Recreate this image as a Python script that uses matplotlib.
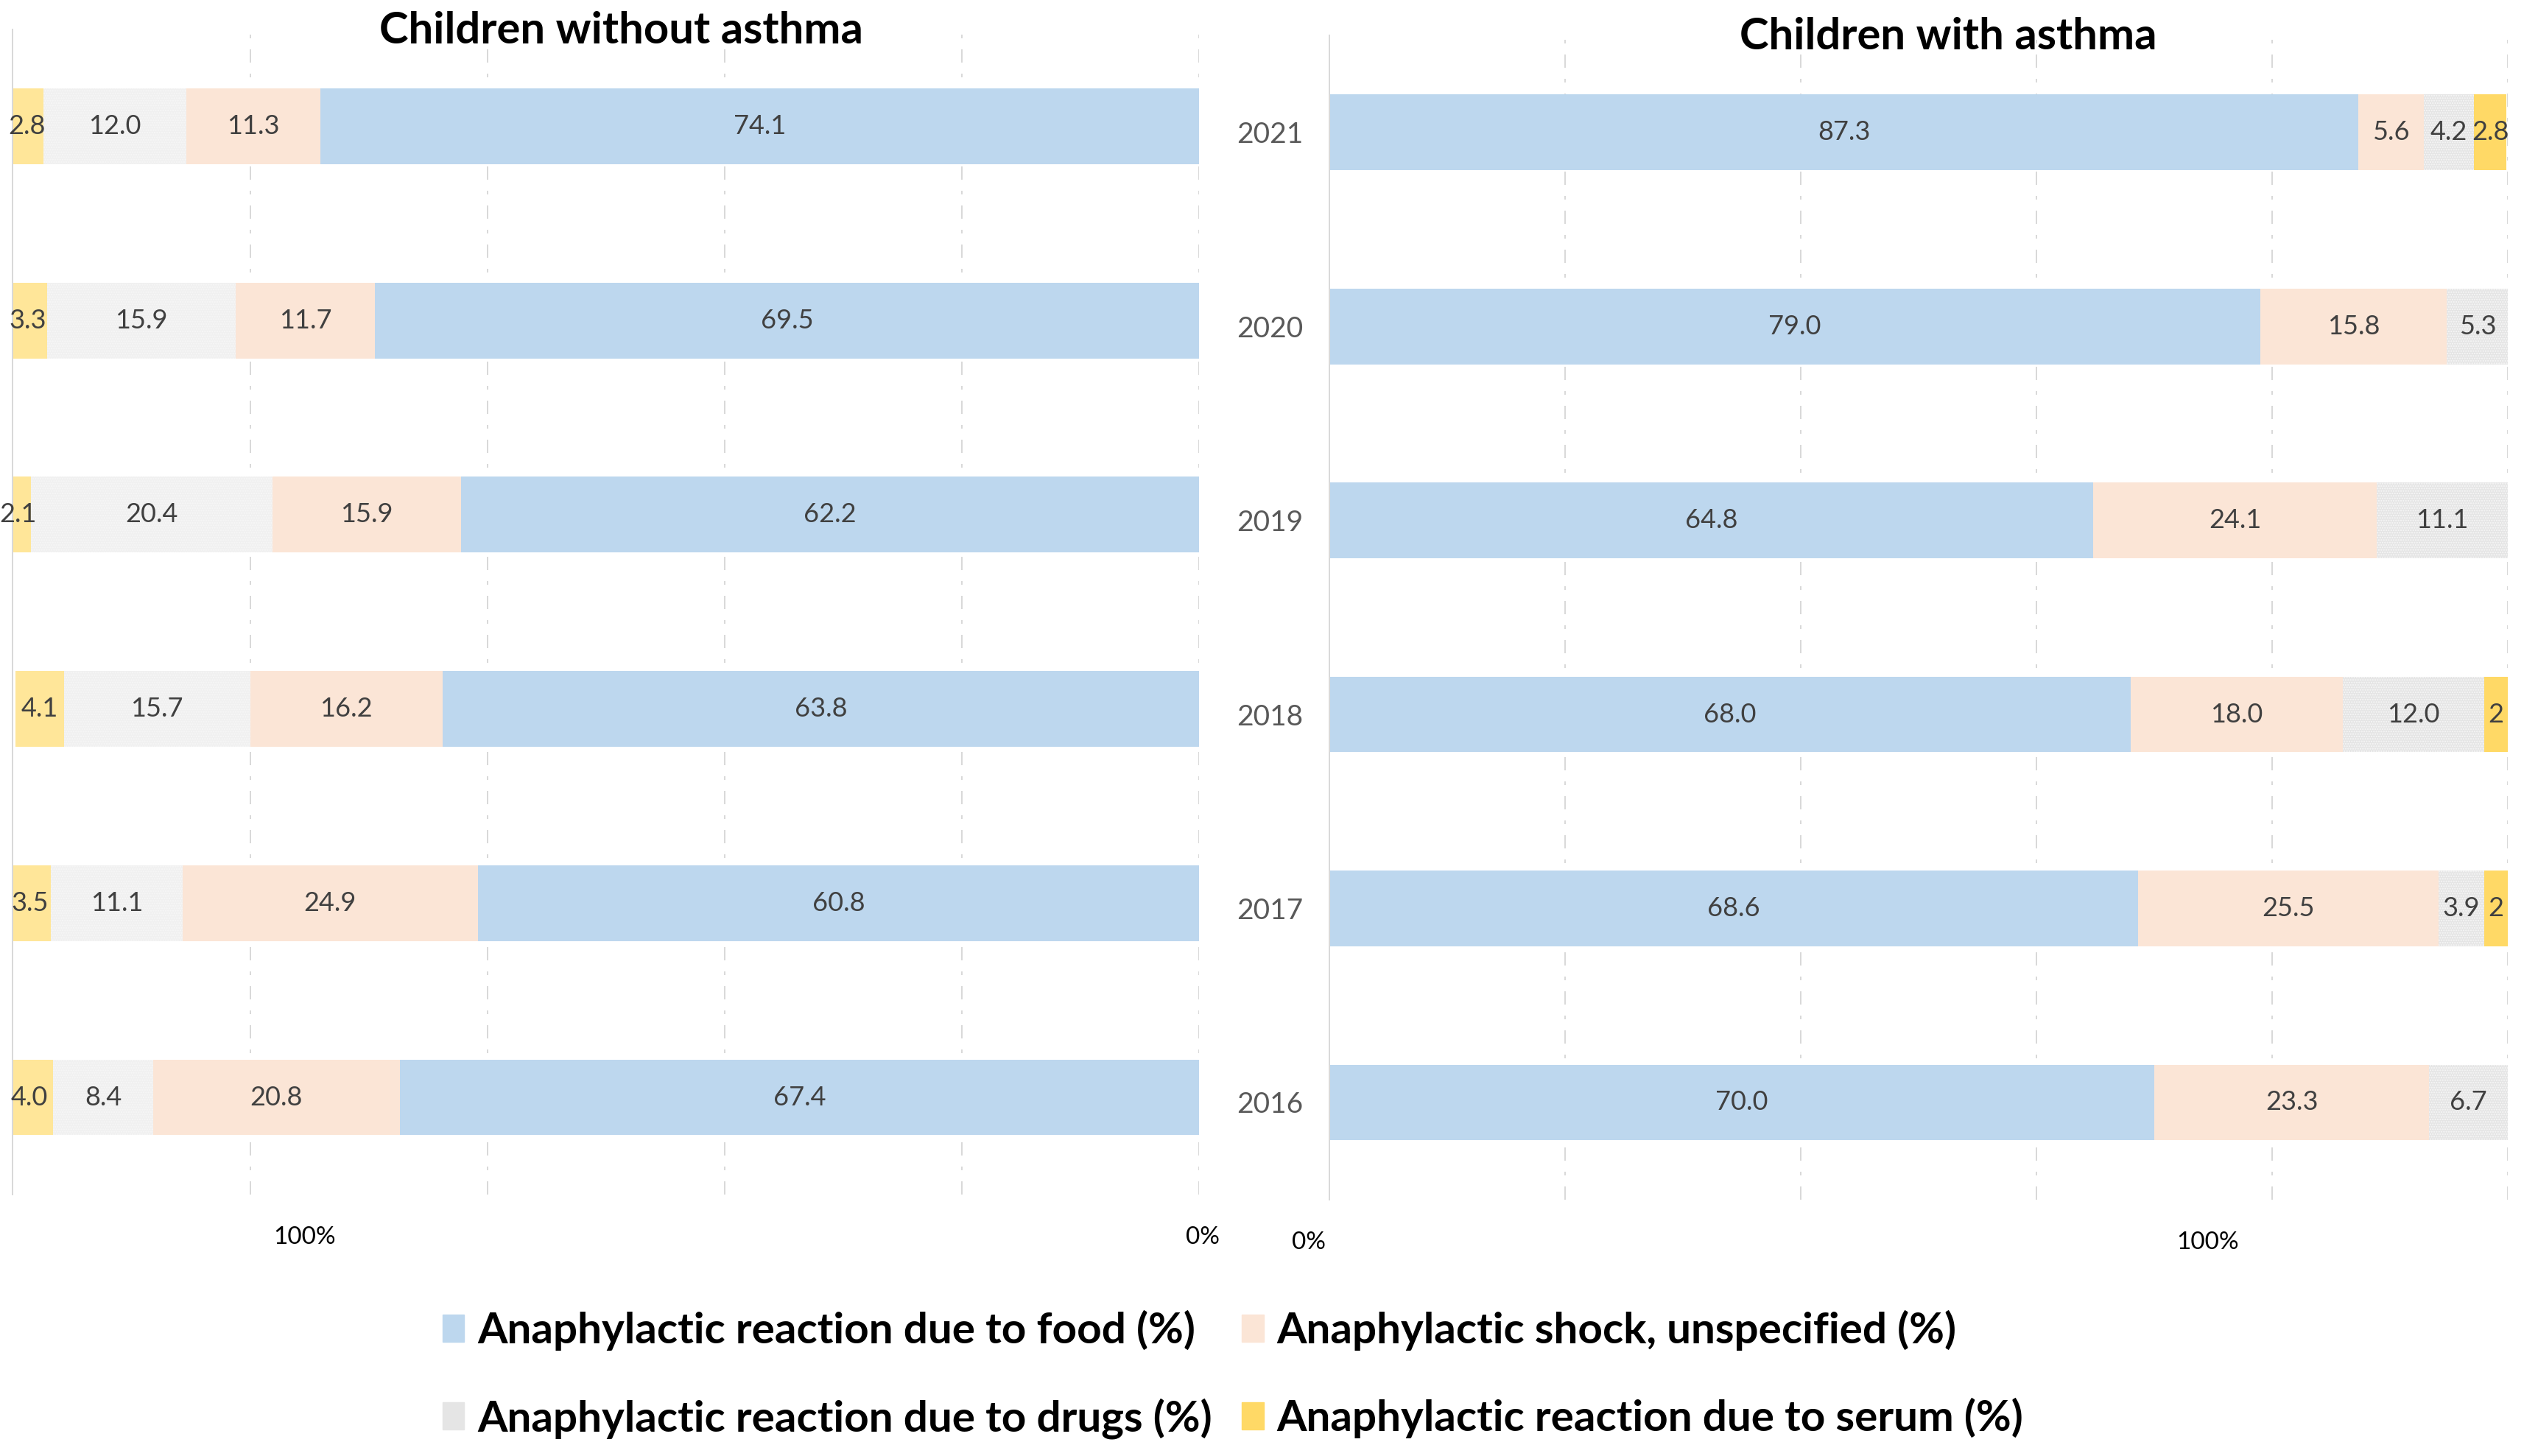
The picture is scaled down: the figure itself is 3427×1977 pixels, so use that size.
"""Anaphylaxis in children with and without asthma, 2016-2021
"""
import matplotlib.pyplot as plt
import matplotlib.transforms as mtransforms
from matplotlib.patches import Patch
import numpy as np

plt.rcParams["font.family"] = ["Lato", "DejaVu Sans"]

years = ["2021", "2020", "2019", "2018", "2017", "2016"]
series = [
    "Anaphylactic reaction due to food (%)",
    "Anaphylactic shock, unspecified (%)",
    "Anaphylactic reaction due to drugs (%)",
    "Anaphylactic reaction due to serum (%)",
]

# Children without asthma
no_food = [74.1, 69.5, 62.2, 63.8, 60.8, 67.4]
no_shock = [11.3, 11.7, 15.9, 16.2, 24.9, 20.8]
no_drugs = [12.0, 15.9, 20.4, 15.7, 11.1, 8.4]
no_serum = [2.8, 3.3, 2.1, 4.1, 3.5, 4.0]

# Children with asthma
as_food = [87.3, 79.0, 64.8, 68.0, 68.6, 70.0]
as_shock = [5.6, 15.8, 24.1, 18.0, 25.5, 23.3]
as_drugs = [4.2, 5.3, 11.1, 12.0, 3.9, 6.7]
as_serum = [2.8, 0.0, 0.0, 2.0, 2.0, 0.0]

colors_left = ["#BDD7EE", "#FBE5D6", "#F0F0F0", "#FFE699"]
colors_right = ["#BDD7EE", "#FBE5D6", "#E5E5E5", "#FFD966"]
grid_color = "#D9D9D9"
grid_style = (0, (9, 7.5, 2.5, 7.5))


def draw_panel(ax, data, colors):
    """누적 막대 + 값 라벨"""
    y = np.arange(len(years))
    left = np.zeros(len(years))
    for vals, col in zip(data, colors):
        vals = np.array(vals)
        hatch = "....." if col in (colors_left[2], colors_right[2]) else None
        ax.barh(y, vals, left=left, height=0.39, color=col, edgecolor="#F7F7F7",
                linewidth=0, hatch=hatch, zorder=2)
        for yi, l, v in zip(y, left, vals):
            if v <= 0:
                continue
            txt = f"{v:g}" if v < 3 else f"{v:.1f}"
            ax.text(l + v / 2, yi, txt, ha="center", va="center",
                    fontsize=26, color="#404040", zorder=3)
        left += vals

    ax.set_xlim(0, 100)
    ax.set_ylim(len(years) - 0.5, -0.5)
    ax.set_xticks([0, 20, 40, 60, 80, 100])
    ax.xaxis.grid(True, color=grid_color, lw=1.44, linestyle=grid_style, zorder=0)
    ax.set_axisbelow(True)
    ax.tick_params(axis="x", length=0, labelbottom=False)
    for s in ["top", "right", "bottom"]:
        ax.spines[s].set_visible(False)
    ax.spines["left"].set_color(grid_color)
    ax.spines["left"].set_linewidth(1.44)


fig = plt.figure(figsize=(34.27, 19.77), dpi=100)
ax1 = fig.add_axes([0.0051, 0.1796, 0.4700, 0.8004])
ax2 = fig.add_axes([0.5268, 0.1762, 0.4668, 0.7995])

draw_panel(ax1, [no_food, no_shock, no_drugs, no_serum], colors_left)
ax1.invert_xaxis()
ax1.set_yticks([])

draw_panel(ax2, [as_food, as_shock, as_drugs, as_serum], colors_right)
ax2.set_yticks(np.arange(len(years)), years)
ax2.tick_params(axis="y", length=0, pad=26, labelsize=28, labelcolor="#595959")

# Excel 스타일의 축 라벨 (원본 위치 그대로)
for ax, marks in [(ax1, [("100%", 75.4), ("0%", -0.3)]), (ax2, [("0%", -1.8), ("100%", 74.5)])]:
    trans = mtransforms.blended_transform_factory(ax.transData, ax.transAxes)
    for lab, xv in marks:
        ax.text(xv, -0.037, lab, transform=trans, ha="center", va="center",
                fontsize=24, color="black", clip_on=False)

fig.text(0.246, 0.970, "Children without asthma", ha="center", va="baseline",
         fontsize=43, fontweight="bold")
fig.text(0.772, 0.966, "Children with asthma", ha="center", va="baseline",
         fontsize=43, fontweight="bold")

handles = [Patch(color=c) for c in colors_right]
order = [0, 2, 1, 3]
fig.legend([handles[i] for i in order], [series[i] for i in order],
           loc="center", bbox_to_anchor=(0.4885, 0.056), ncol=2, frameon=False,
           prop={"size": 42, "weight": "bold"}, handlelength=0.5, handleheight=0.6,
           handletextpad=0.3, columnspacing=0.7, labelspacing=1.1)

fig.savefig("out.png", dpi=100)
